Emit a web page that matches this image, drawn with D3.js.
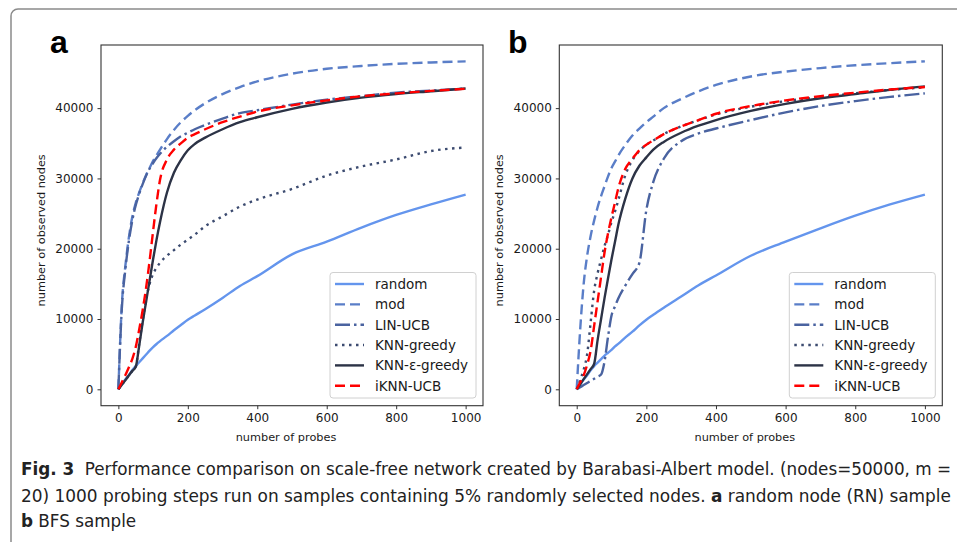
<!DOCTYPE html>
<html>
<head>
<meta charset="utf-8">
<script src="https://cdn.jsdelivr.net/npm/d3@7"></script>
<style>
  body { margin: 0; background: #fff; }
  svg { display: block; }
</style>
</head>
<body>
<svg id="canvas" width="957" height="542"></svg>
<script>
// probe steps shared by every series
const probeSteps = [0, 10, 20, 30, 40, 50, 60, 70, 80, 90, 100, 110, 120, 140, 160, 180, 200, 220, 250, 300, 350, 400, 500, 600, 700, 800, 900, 1000];

const seriesNames = ['random', 'mod', 'LIN-UCB', 'KNN-greedy', 'KNN-ε-greedy', 'iKNN-UCB'];

// panel a: random node (RN) sample
const randomA  = [0, 700, 1400, 2000, 2700, 3300, 3850, 4400, 4950, 5500, 6000, 6450, 6850, 7600, 8400, 9150, 9900, 10500, 11400, 13000, 14700, 16100, 19200, 21000, 23000, 24800, 26300, 27700];
const modA     = [0, 12000, 17500, 21500, 24500, 26500, 28000, 29300, 30500, 31500, 32500, 33300, 34100, 35600, 36900, 38000, 38900, 39700, 40700, 42000, 43000, 43800, 44900, 45600, 46000, 46300, 46500, 46650];
const linUcbA  = [0, 11500, 17000, 21000, 24000, 26200, 27800, 29200, 30400, 31400, 32200, 32900, 33500, 34500, 35300, 36000, 36500, 37000, 37600, 38500, 39300, 39700, 40500, 41200, 41700, 42200, 42500, 42800];
const greedyA  = [0, 650, 1300, 1950, 2600, 3200, 6500, 9800, 12800, 15000, 16400, 17300, 18000, 19000, 19800, 20600, 21300, 22000, 23200, 24600, 26000, 27000, 28500, 30400, 31700, 32700, 33900, 34400];
const epsA     = [0, 650, 1300, 1950, 2600, 3200, 6200, 9500, 12500, 15500, 18500, 21300, 23800, 28000, 30800, 32600, 34000, 34900, 35800, 37000, 38000, 38700, 39900, 40800, 41500, 42000, 42400, 42800];
const iknnA    = [0, 1000, 2000, 3100, 4300, 6000, 8500, 11300, 14500, 18300, 22500, 26500, 29800, 32700, 34100, 35000, 35800, 36300, 37000, 38000, 38800, 39500, 40400, 41100, 41700, 42100, 42450, 42750];

// panel b: BFS sample
const randomB  = [0, 700, 1400, 2000, 2700, 3300, 3800, 4300, 4800, 5200, 5600, 6100, 6500, 7400, 8200, 9100, 9900, 10600, 11600, 13200, 14800, 16200, 19000, 21000, 22900, 24700, 26300, 27700];
const modB     = [0, 8500, 15000, 19000, 21800, 24000, 25900, 27500, 28900, 30300, 31500, 32400, 33300, 34800, 36100, 37100, 38000, 38800, 40000, 41300, 42400, 43300, 44500, 45200, 45700, 46100, 46400, 46650];
const linUcbB  = [0, 300, 600, 900, 1200, 1500, 1800, 2100, 4000, 7500, 10500, 11800, 13000, 14800, 16400, 18000, 25500, 29500, 32800, 35300, 36400, 37100, 38300, 39400, 40300, 41000, 41600, 42100];
const greedyB  = [0, 1300, 2800, 5000, 9500, 14000, 16500, 18500, 20400, 22000, 23800, 25300, 27000, 30500, 32600, 33900, 34800, 35400, 36300, 37400, 38300, 39100, 40200, 41000, 41600, 42100, 42600, 42950];
const epsB     = [0, 720, 1440, 2160, 2880, 3600, 7000, 10000, 13000, 15800, 18500, 21000, 23500, 27200, 30000, 31800, 33000, 34100, 35200, 36500, 37500, 38300, 39600, 40600, 41400, 42000, 42600, 43100];
const iknnB    = [0, 1000, 2000, 3500, 5500, 9000, 12500, 16000, 19500, 22200, 24500, 26600, 28700, 31400, 32800, 34000, 34800, 35400, 36300, 37400, 38300, 39200, 40300, 41100, 41700, 42200, 42650, 43000];

const xTicks = [0, 200, 400, 600, 800, 1000];
const yTicks = [0, 10000, 20000, 30000, 40000];

const lineStyles = {
  'random':       { color: '#6495ed', dash: null },
  'mod':          { color: '#5a7ec8', dash: '10,5' },
  'LIN-UCB':      { color: '#4a63a0', dash: '15,4,2.5,4' },
  'KNN-greedy':   { color: '#3c4b70', dash: '2.5,4.5' },
  'KNN-ε-greedy': { color: '#2c3346', dash: null },
  'iKNN-UCB':     { color: '#ff0000', dash: '10,5' }
};

const svg = d3.select('#canvas');
const font = '"DejaVu Sans", sans-serif';

// outer frame of the figure
svg.append('rect')
  .attr('x', 11).attr('y', 9)
  .attr('width', 980).attr('height', 580)
  .attr('rx', 7)
  .attr('fill', 'none')
  .attr('stroke', '#8a8a8a')
  .attr('stroke-width', 1.5);

const allValues = [].concat(randomA, modA, linUcbA, greedyA, epsA, iknnA, randomB, modB, linUcbB, greedyB, epsB, iknnB);
const yMax = d3.max(allValues);

const drawPanel = (cfg) => {
  let x = d3.scaleLinear().domain([-50, 1050]).range([cfg.left, cfg.right]);
  let y = d3.scaleLinear().domain([-yMax * 0.05, yMax * 1.05]).range([cfg.bottom, cfg.top]);

  let g = svg.append('g');

  let line = d3.line()
    .x((d, i) => x(probeSteps[i]))
    .y(d => y(d))
    .curve(d3.curveMonotoneX);

  let clipId = 'clip-' + cfg.letter;
  svg.append('clipPath').attr('id', clipId)
    .append('rect')
    .attr('x', cfg.left).attr('y', cfg.top)
    .attr('width', cfg.right - cfg.left).attr('height', cfg.bottom - cfg.top);

  let lines = g.append('g').attr('clip-path', 'url(#' + clipId + ')');
  cfg.series.forEach((vals, i) => {
    let st = lineStyles[seriesNames[i]];
    lines.append('path')
      .attr('d', line(vals))
      .attr('fill', 'none')
      .attr('stroke', st.color)
      .attr('stroke-width', 2.4)
      .attr('stroke-dasharray', st.dash)
      .attr('stroke-linejoin', 'round');
  });

  // axes
  let xAxis = g.append('g')
    .attr('transform', 'translate(0,' + cfg.bottom + ')')
    .call(d3.axisBottom(x).tickValues(xTicks).tickFormat(d3.format('d')).tickSize(3.5).tickPadding(4));
  let yAxis = g.append('g')
    .attr('transform', 'translate(' + cfg.left + ',0)')
    .call(d3.axisLeft(y).tickValues(yTicks).tickFormat(d3.format('d')).tickSize(3.5).tickPadding(4));

  [xAxis, yAxis].forEach(ax => {
    ax.select('.domain').remove();
    ax.selectAll('line').attr('stroke', '#333').attr('stroke-width', 1);
    ax.selectAll('text').attr('fill', '#1a1a1a').style('font-family', font).style('font-size', '12px');
  });

  // frame
  g.append('rect')
    .attr('x', cfg.left).attr('y', cfg.top)
    .attr('width', cfg.right - cfg.left).attr('height', cfg.bottom - cfg.top)
    .attr('fill', 'none')
    .attr('stroke', '#333')
    .attr('stroke-width', 1.1);

  g.append('text')
    .attr('x', (cfg.left + cfg.right) / 2 - 6)
    .attr('y', 441)
    .attr('text-anchor', 'middle')
    .style('font-family', font).style('font-size', '11.3px').attr('fill', '#1a1a1a')
    .text('number of probes');

  g.append('text')
    .attr('transform', 'translate(' + (cfg.left - 56) + ',' + ((cfg.top + cfg.bottom) / 2 + 5) + ') rotate(-90)')
    .attr('text-anchor', 'middle')
    .style('font-family', font).style('font-size', '11.3px').attr('fill', '#1a1a1a')
    .text('number of observed nodes');

  // panel letter
  g.append('text')
    .attr('x', cfg.letterX).attr('y', 53)
    .style('font-family', '"Liberation Sans", Arial, sans-serif')
    .style('font-size', '32px').style('font-weight', 'bold').attr('fill', '#000')
    .text(cfg.letter);

  // legend
  let lx = cfg.right - 7, lw = 146, ly = 272.5, lh = 125.5;
  let legend = g.append('g');
  legend.append('rect')
    .attr('x', lx - lw).attr('y', ly)
    .attr('width', lw).attr('height', lh)
    .attr('rx', 3)
    .attr('fill', '#fff').attr('fill-opacity', 0.85)
    .attr('stroke', '#d0d0d0').attr('stroke-width', 1);

  legend.selectAll('g.legend-item')
    .data(seriesNames)
    .enter()
    .append('g')
    .attr('class', 'legend-item')
    .attr('transform', (d, i) => 'translate(' + (lx - lw) + ',' + (ly + 11.5 + i * 20.35) + ')')
    .each(function (d) {
      let st = lineStyles[d];
      d3.select(this).append('line')
        .attr('x1', 5).attr('x2', 34).attr('y1', 0).attr('y2', 0)
        .attr('stroke', st.color).attr('stroke-width', 2.4)
        .attr('stroke-dasharray', st.dash);
      d3.select(this).append('text')
        .attr('x', 45).attr('y', 4.8)
        .style('font-family', font).style('font-size', '13.5px').attr('fill', '#1a1a1a')
        .text(d);
    });
};

drawPanel({
  letter: 'a', letterX: 50,
  left: 101, right: 483, top: 45, bottom: 405.7,
  series: [randomA, modA, linUcbA, greedyA, epsA, iknnA]
});

drawPanel({
  letter: 'b', letterX: 508,
  left: 559.3, right: 942.3, top: 45, bottom: 405.7,
  series: [randomB, modB, linUcbB, greedyB, epsB, iknnB]
});

// caption
const captionFont = '"Liberation Sans Narrow", "DejaVu Sans Condensed", "Open Sans", sans-serif';
const captionLines = [
  [['Fig. 3', true], ['  Performance comparison on scale-free network created by Barabasi-Albert model. (nodes=50000, m =', false]],
  [['20) 1000 probing steps run on samples containing 5% randomly selected nodes. ', false], ['a', true], [' random node (RN) sample', false]],
  [['b', true], [' BFS sample', false]]
];
const captionY = [475, 502, 527];

let ratio = 1;
captionLines.forEach((parts, li) => {
  let t = svg.append('text')
    .attr('x', 21).attr('y', captionY[li])
    .attr('xml:space', 'preserve')
    .style('font-family', captionFont).style('font-size', '17px').attr('fill', '#222');
  parts.forEach(p => {
    t.append('tspan').style('font-weight', p[1] ? 'bold' : 'normal').text(p[0]);
  });
  let len = t.node().getComputedTextLength();
  if (li === 0) ratio = 930 / len;
  let target = li < 2 ? 930 : len * ratio;
  t.attr('textLength', target).attr('lengthAdjust', 'spacingAndGlyphs');
});
</script>
</body>
</html>
